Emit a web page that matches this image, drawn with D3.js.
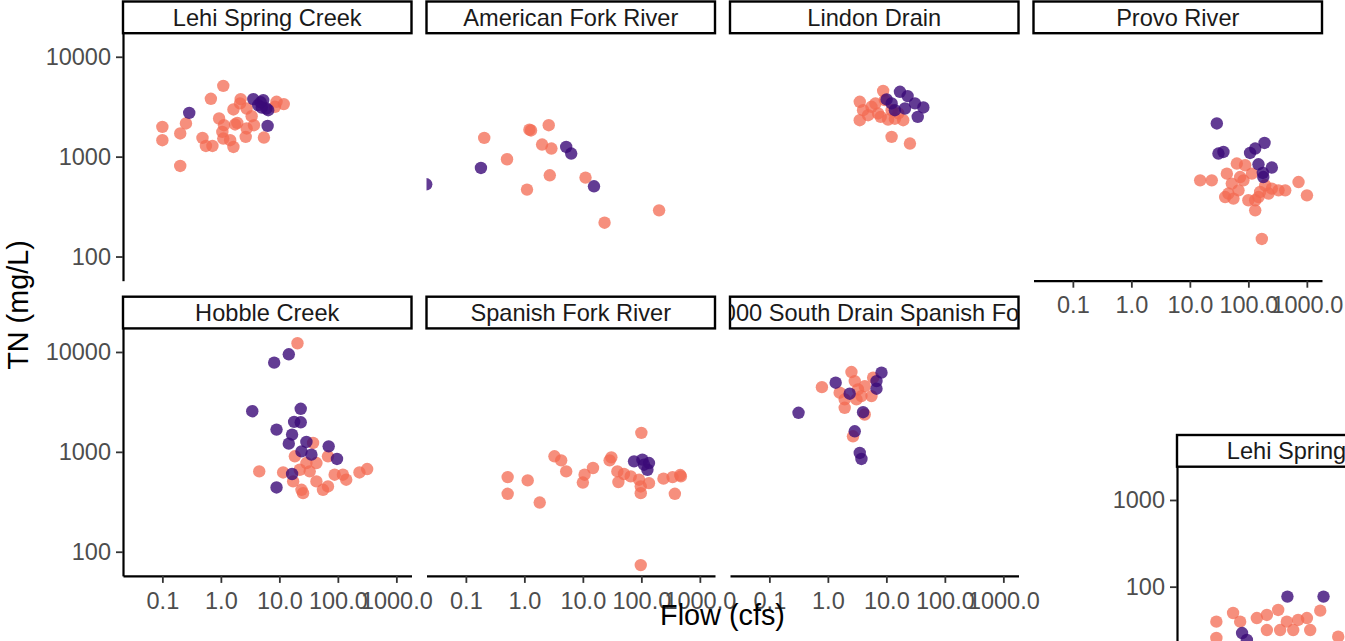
<!DOCTYPE html>
<html>
<head>
<meta charset="utf-8">
<script src="https://cdn.jsdelivr.net/npm/d3@7"></script>
<style>
  html, body { margin: 0; padding: 0; background: #fff; overflow: hidden; }
  text { font-family: "Liberation Sans", Arial, Helvetica, sans-serif; }
</style>
</head>
<body>
<svg id="chart" width="1345" height="641"></svg>
<script>
// Facet order (row-major, 4 columns)
const sites = ["Lehi Spring Creek", "American Fork River", "Lindon Drain", "Provo River",
               "Hobble Creek", "Spanish Fork River", "1000 South Drain Spanish Fork"];

// Axis ticks
const xTickValues = [0.1, 1, 10, 100, 1000];
const xTickLabels = ["0.1", "1.0", "10.0", "100.0", "1000.0"];
const yTickValues = [100, 1000, 10000];
const yTickLabels = ["100", "1000", "10000"];

// Samples per site as [flow (cfs), TN (mg/L)]; group A = salmon, group B = purple
const lehiA = [[0.1,1986],[0.1,1462],[0.202,1706],[0.253,2148],[0.202,807],[0.485,1541],[0.555,1279],[0.718,1279],
  [0.675,3793],[1.10,5117],[0.933,2410],[1.13,2066],[1.06,1770],[1.10,1518],[1.44,1462],[1.64,1250],[1.75,2100],
  [1.91,2178],[2.66,1578],[2.76,1915],[3.68,2066],[1.64,2966],[2.13,3414],[2.18,3768],[2.76,3034],[3.36,2541],
  [5.45,1554],[8.95,3540],[11.9,3357],[8.4,3157]];
const lehiB = [[0.288,2742],[3.58,3768],[5.3,3684],[4.34,3281],[6.0,3034],[6.44,2917],[6.3,2032],[4.8,3500],[5.0,3100]];

const amForkA = [[0.206,1541],[0.505,942],[1.22,1860],[1.3,1830],[2.61,2066],[2.01,1322],[2.90,1205],[1.11,468],
  [2.72,651],[11.1,617],[23.5,218],[201,290]];
const amForkB = [[0.021,529],[0.181,771],[5.19,1250],[6.32,1074],[15.5,505]];

const lindonA = [[3.51,3540],[3.51,2317],[4.0,2917],[5.57,3157],[7.23,2705],[8.81,4560],[9.4,3684],[10.7,2355],
  [12.3,1578],[16.0,2705],[19.4,2317],[25.3,1353],[12.3,2917],[4.88,2600],[6.5,3400],[8.0,2500],[14.0,2400]];
const lindonB = [[10.1,3741],[17.1,4460],[23.1,4040],[14.0,2917],[20.8,3034],[30.8,3414],[42.9,3106],[34.4,2500],[12.3,3414]];

const provoA = [[15.0,579],[23.7,579],[42.9,676],[63.5,853],[88.1,820],[45.6,427],[55.6,380],[67.8,460],[131,290],
  [170,150],[159,443],[221,427],[328,460],[427,460],[721,557],[1004,410],[131,366],[82.4,579],[52.1,537],[100,366],
  [194,517],[72.4,625],[115,676],[40.1,394],[149,394],[252,479]];
const provoB = [[28.9,2148],[30.8,1074],[37.5,1114],[107,1089],[131,1205],[189,1372],[149,839],[252,778],[177,687],[180,625]];

const hobbleA = [[20.4,12225],[4.53,637],[11.6,622],[23.9,417],[37.7,1227],[29.0,773],[43.0,773],[22.3,662],[33.0,637],
  [43.0,506],[55.7,417],[67.8,450],[67.8,902],[88.1,590],[122,590],[139,526],[234,622],[317,673],[17.2,506],[25.4,386],[18.4,902]];
const hobbleB = [[8.16,7821],[14.5,9484],[3.44,2553],[23.2,2698],[17.9,1995],[23.2,1977],[8.95,1670],[16.5,1489],
  [14.5,1208],[29.0,1256],[23.9,1011],[35.3,937],[69.7,1135],[96.6,849],[16.5,600],[8.95,440]];

const spanishA = [[0.518,559],[0.518,380],[1.14,518],[1.83,311],[3.27,902],[4.26,822],[5.19,637],[10.0,493],[10.7,590],
  [14.9,689],[28.7,822],[30.7,881],[38.9,637],[40.5,498],[50.5,600],[65.8,568],[91.4,526],[97.7,450],[97.7,386],
  [135,486],[100,1549],[97.7,73.5],[239,539],[342,559],[461,586],[374,380],[474,568]];
const spanishB = [[75.0,803],[104,835],[135,773],[127,662],[111,743]];

const southA = [[0.791,4446],[2.53,6293],[2.88,5112],[1.59,3908],[1.94,3350],[3.28,4217],[4.27,4550],[3.75,3614],
  [5.57,3614],[5.94,5534],[1.94,2761],[2.69,1432],[4.27,2366],[3.08,3350]];
const southB = [[0.315,2460],[1.36,4920],[2.36,3820],[8.26,6209],[6.78,5112],[6.78,4285],[4.0,2494],[2.88,1607],[3.51,975],[3.75,849]];

// Second figure (Lehi Spring Creek, lower concentration range)
const insetTitle = "Lehi Spring Creek";
const insetYTickValues = [100, 1000];
const insetYTickLabels = ["100", "1000"];
const insetA = [[0.1,39.5],[0.193,49.7],[0.255,39.5],[0.492,43.5],[0.730,47.2],[1.14,53.9],[1.60,39.5],[2.50,41.3],
  [3.53,43.5],[5.97,52.9],[2.06,31.6],[4.02,31.6],[0.730,31.6],[0.1,25.6],[12.1,26.5],[1.23,31.6]];
const insetB = [[0.275,29.2],[0.332,24.3],[1.64,76.8],[6.79,76.8]];

const panelData = [
  [lehiA, lehiB], [amForkA, amForkB], [lindonA, lindonB], [provoA, provoB],
  [hobbleA, hobbleB], [spanishA, spanishB], [southA, southB]
];

// ---- layout & styling ----
const colorA = "#f36a52", colorB = "#3b0a78";
const opacityA = 0.75, opacityB = 0.8;
const pointR = 6.2;
const tickFont = 23.5, stripFont = 23.6, titleFont = 28.8;
const panelW = 288.5, panelH = 247.5, stripH = 31.7;
const colX = i => 123 + i * 303.5;
const stripTops = [1.5, 296.7];

const svg = d3.select("#chart");
const defs = svg.append("defs");

const x = d3.scaleLog().domain([Math.pow(10, -1.673), Math.pow(10, 3.259)]).range([0, panelW]);
const y = d3.scaleLog().domain([Math.pow(10, 1.758), Math.pow(10, 4.236)]).range([panelH, 0]);

function styleAxis(g) {
  g.select(".domain").attr("stroke", "#000").attr("stroke-width", 2.2);
  g.selectAll(".tick line").attr("stroke", "#333").attr("stroke-width", 1.8);
  g.selectAll(".tick text").attr("fill", "#4d4d4d").style("font-size", tickFont + "px")
    .style("font-family", '"Liberation Sans", Arial, sans-serif');
}

function drawPanel(id, left, top, title, groups, xs, ys, opts) {
  const g = svg.append("g").attr("transform", `translate(${left},${top})`);
  const pw = xs.range()[1], ph = ys.range()[0];

  defs.append("clipPath").attr("id", "clip-" + id)
    .append("rect").attr("x", 0).attr("y", 0).attr("width", pw).attr("height", ph);
  defs.append("clipPath").attr("id", "sclip-" + id)
    .append("rect").attr("x", 0).attr("y", -stripH).attr("width", pw).attr("height", stripH);

  const pts = g.append("g").attr("clip-path", `url(#clip-${id})`);
  [[groups[0], colorA, opacityA], [groups[1], colorB, opacityB]].forEach(([data, col, op]) => {
    pts.selectAll(null).data(data).enter().append("circle")
      .attr("cx", d => xs(d[0])).attr("cy", d => ys(d[1]))
      .attr("r", pointR).attr("fill", col).attr("fill-opacity", op);
  });

  // strip
  const s = g.append("g");
  s.append("rect").attr("x", 0).attr("y", -stripH).attr("width", pw).attr("height", stripH)
    .attr("fill", "#fff").attr("stroke", "#000").attr("stroke-width", 2.4);
  s.append("g").attr("clip-path", `url(#sclip-${id})`).append("text")
    .attr("x", pw / 2).attr("y", -stripH / 2).attr("dy", "0.36em")
    .attr("text-anchor", "middle").attr("fill", "#1a1a1a")
    .style("font-size", stripFont + "px").text(title);

  if (opts.yAxis) {
    const ax = g.append("g").call(
      d3.axisLeft(ys).tickValues(opts.yTicks).tickFormat((d, i) => opts.yLabels[i])
        .tickSize(7).tickSizeOuter(0).tickPadding(5));
    styleAxis(ax);
  }
  if (opts.xAxis) {
    const ax = g.append("g").attr("transform", `translate(0,${ph})`).call(
      d3.axisBottom(xs).tickValues(xTickValues).tickFormat((d, i) => xTickLabels[i])
        .tickSize(7).tickSizeOuter(0).tickPadding(9));
    styleAxis(ax);
  }
}

sites.forEach((name, i) => {
  const row = Math.floor(i / 4), col = i % 4;
  const hasBelow = i + 4 < sites.length;
  drawPanel("p" + i, colX(col), stripTops[row] + stripH, name, panelData[i], x, y, {
    yAxis: col === 0, xAxis: !hasBelow, yTicks: yTickValues, yLabels: yTickLabels
  });
});

// axis titles
svg.append("text").attr("x", 722.5).attr("y", 625).attr("text-anchor", "middle")
  .attr("fill", "#000").style("font-size", titleFont + "px").text("Flow (cfs)");
svg.append("text").attr("transform", "translate(28,305) rotate(-90)").attr("text-anchor", "middle")
  .attr("fill", "#000").style("font-size", titleFont + "px").text("TN (mg/L)");

// second figure, lower right
const yInset = d3.scaleLog().domain([Math.pow(10, 0.5), Math.pow(10, 3.384)]).range([250, 0]);
drawPanel("inset", 1177, 435 + stripH, insetTitle, [insetA, insetB], x, yInset, {
  yAxis: true, xAxis: false, yTicks: insetYTickValues, yLabels: insetYTickLabels
});
</script>
</body>
</html>
